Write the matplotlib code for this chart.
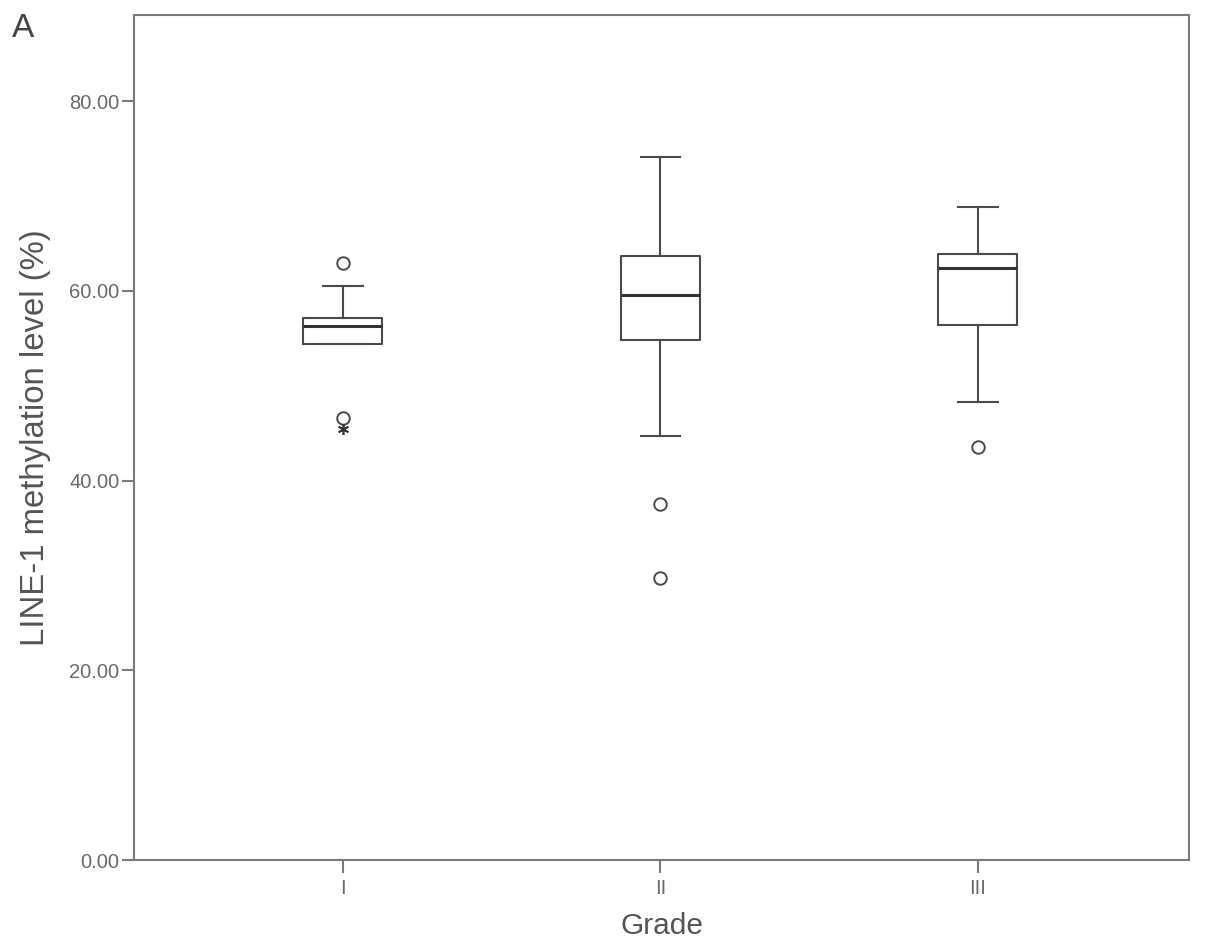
import matplotlib
matplotlib.use("Agg")
import matplotlib.pyplot as plt

plt.rcParams["font.family"] = ["Liberation Sans", "DejaVu Sans"]

# Werte
grades = ["I", "II", "III"]
q1 = [54.4, 54.8, 56.4]
median = [56.3, 59.6, 62.4]
q3 = [57.1, 63.7, 63.9]
whisker_lo = [54.4, 44.75, 48.3]
whisker_hi = [60.5, 74.1, 68.9]
outliers = [[62.9, 46.6], [37.5, 29.7], [43.6]]
extremes = [[45.4], [], []]

yticks = [0, 20, 40, 60, 80]

line_col = "#4a4a4a"
axis_col = "#7a7a7a"
text_col = "#6a6a6a"

stats = []
for i, g in enumerate(grades):
    stats.append(dict(label=g, q1=q1[i], med=median[i], q3=q3[i],
                      whislo=whisker_lo[i], whishi=whisker_hi[i],
                      fliers=outliers[i]))

fig = plt.figure(figsize=(12.05, 9.48), dpi=100)
ax = fig.add_axes([134 / 1205, 1 - 860 / 948, (1189 - 134) / 1205, (860 - 15) / 948])

positions = [1, 2, 3]
ax.bxp(stats, positions=positions, widths=0.249, capwidths=0.125,
       boxprops=dict(color=line_col, linewidth=1.5),
       medianprops=dict(color="#333333", linewidth=2.2),
       whiskerprops=dict(color=line_col, linewidth=1.5),
       capprops=dict(color=line_col, linewidth=1.5),
       flierprops=dict(marker="o", markersize=9, markerfacecolor="white",
                       markeredgecolor=line_col, markeredgewidth=1.4,
                       linestyle="none"))

for p, ext in zip(positions, extremes):
    if ext:
        ax.plot([p] * len(ext), ext, linestyle="none", marker=(6, 2, 0),
                markersize=8, color="#333333", markeredgewidth=1.2)

ax.set_xlim(0.342, 3.665)
ax.set_ylim(0, 89.1)
ax.set_yticks(yticks)
ax.set_yticklabels([f"{v:.2f}" for v in yticks])
ax.set_xticks(positions)
ax.set_xticklabels(grades)

for s in ax.spines.values():
    s.set_color(axis_col)
    s.set_linewidth(1.5)

ax.tick_params(axis="y", direction="out", length=9, width=1.5, color=axis_col,
               labelsize=14.5, labelcolor=text_col, pad=1.5)
ax.tick_params(axis="x", direction="out", length=9, width=1.5, color=axis_col,
               labelsize=14.5, labelcolor=text_col, pad=5)

ax.set_ylabel("LINE-1 methylation level (%)", fontsize=23.7, color="#555555", labelpad=13)
ax.set_xlabel("Grade", fontsize=21.5, color="#555555", labelpad=10)

fig.text(12 / 1205, 1 - 37 / 948, "A", fontsize=24, color="#444444")

fig.savefig("out.png", dpi=100)
